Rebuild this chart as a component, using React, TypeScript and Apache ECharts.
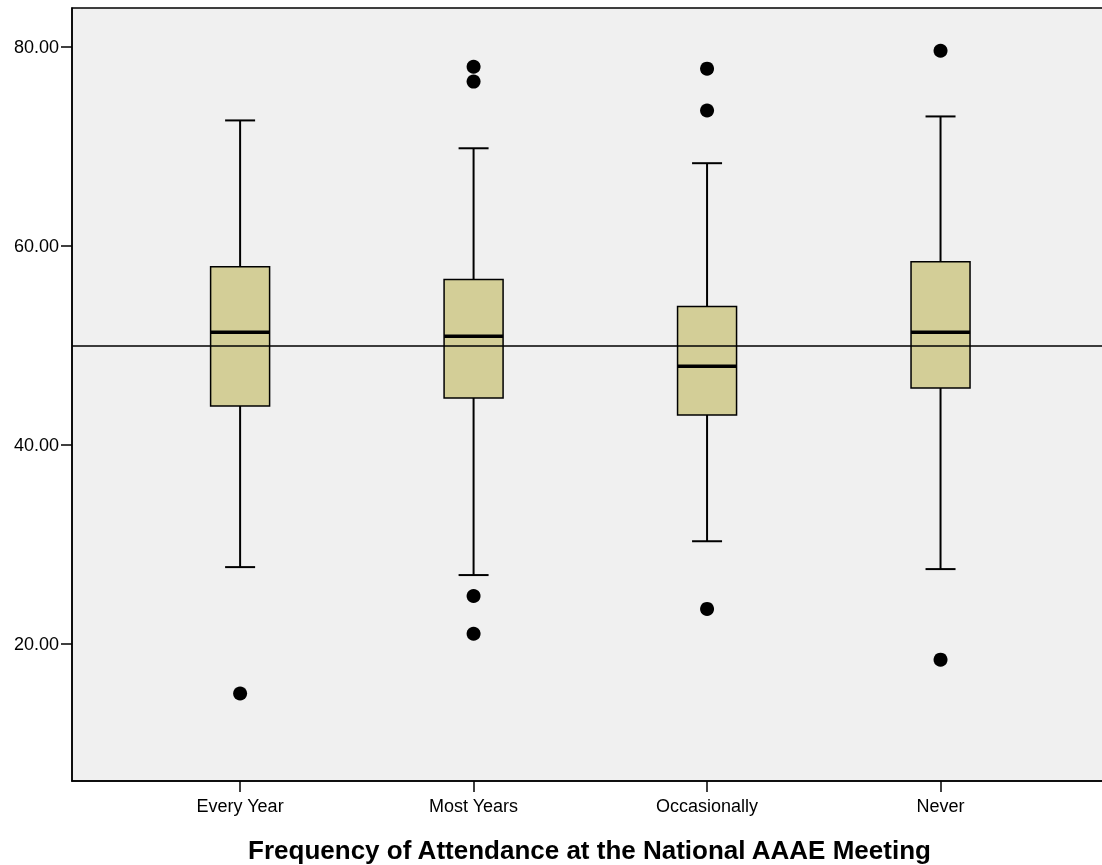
import React, { useEffect, useRef } from "react";
import * as echarts from "echarts";

const categories = ["Every Year", "Most Years", "Occasionally", "Never"];
const whiskerLow = [27.7, 26.9, 30.3, 27.5];
const q1 = [43.9, 44.7, 43.0, 45.7];
const median = [51.3, 50.9, 47.9, 51.3];
const q3 = [57.9, 56.6, 53.9, 58.4];
const whiskerHigh = [72.6, 69.8, 68.3, 73.0];
const outliers: [number, number][] = [
  [0, 15.0],
  [1, 78.0],
  [1, 76.5],
  [1, 24.8],
  [1, 21.0],
  [2, 77.8],
  [2, 73.6],
  [2, 23.5],
  [3, 79.6],
  [3, 18.4],
];
const yTicks = [20, 40, 60, 80];
const referenceValue = 50;
const xTitle = "Frequency of Attendance at the National AAAE Meeting";

export default function App() {
  const ref = useRef<HTMLDivElement>(null);
  useEffect(() => {
    if (!ref.current) return;
    const chart = echarts.init(ref.current, null, { renderer: "svg" });
    const boxData = categories.map((_, i) => [i, whiskerLow[i], q1[i], median[i], q3[i], whiskerHigh[i]]);
    const BOX_W = 59;
    const CAP_W = 30;
    const renderItem = (params: any, api: any) => {
      const x = api.value(0);
      const pLow = api.coord([x, api.value(1)]);
      const pQ1 = api.coord([x, api.value(2)]);
      const pMed = api.coord([x, api.value(3)]);
      const pQ3 = api.coord([x, api.value(4)]);
      const pHigh = api.coord([x, api.value(5)]);
      const cx = pMed[0];
      const lineStyle = { stroke: "#000", lineWidth: 2 };
      return {
        type: "group",
        children: [
          { type: "line", shape: { x1: cx, y1: pHigh[1], x2: cx, y2: pQ3[1] }, style: lineStyle },
          { type: "line", shape: { x1: cx, y1: pQ1[1], x2: cx, y2: pLow[1] }, style: lineStyle },
          { type: "line", shape: { x1: cx - CAP_W / 2, y1: pHigh[1], x2: cx + CAP_W / 2, y2: pHigh[1] }, style: lineStyle },
          { type: "line", shape: { x1: cx - CAP_W / 2, y1: pLow[1], x2: cx + CAP_W / 2, y2: pLow[1] }, style: lineStyle },
          {
            type: "rect",
            shape: { x: cx - BOX_W / 2, y: pQ3[1], width: BOX_W, height: pQ1[1] - pQ3[1] },
            style: { fill: "#d3ce97", stroke: "#000", lineWidth: 1.5 },
          },
          { type: "line", shape: { x1: cx - BOX_W / 2, y1: pMed[1], x2: cx + BOX_W / 2, y2: pMed[1] }, style: { stroke: "#000", lineWidth: 3.5 } },
        ],
      };
    };
    chart.setOption({
      animation: false,
      grid: {
        left: 72,
        top: 8,
        right: -5,
        bottom: 84,
        outerBoundsMode: "none",
        containLabel: false,
        show: true,
        backgroundColor: "#f0f0f0",
        borderColor: "#000",
        borderWidth: 1.5,
      },
      xAxis: {
        type: "value",
        min: -0.72,
        max: 3.713,
        splitLine: { show: false },
        axisLine: { show: true, onZero: false, lineStyle: { color: "#000", width: 1.5 } },
        axisTick: { show: true, customValues: [0, 1, 2, 3], length: 11, lineStyle: { color: "#000", width: 1.5 } },
        axisLabel: {
          customValues: [0, 1, 2, 3],
          formatter: (v: number) => categories[Math.round(v)] ?? "",
          color: "#000",
          fontSize: 18,
          fontFamily: "Arial",
          margin: 16,
        },
        name: xTitle,
        nameLocation: "middle",
        nameGap: 56,
        nameTextStyle: { color: "#000", fontSize: 26, fontWeight: "bold", fontFamily: "Arial" },
      },
      yAxis: {
        type: "value",
        min: 6.2,
        max: 83.9,
        splitLine: { show: false },
        axisLine: { show: true, onZero: false, lineStyle: { color: "#000", width: 1.5 } },
        axisTick: { show: true, customValues: yTicks, length: 11, lineStyle: { color: "#000", width: 1.5 } },
        axisLabel: {
          customValues: yTicks,
          formatter: (v: number) => v.toFixed(2),
          color: "#000",
          fontSize: 18,
          fontFamily: "Arial",
          margin: 13,
        },
      },
      series: [
        {
          type: "custom",
          renderItem,
          data: boxData,
          encode: { x: 0, y: [1, 2, 3, 4, 5] },
          z: 2,
          markLine: {
            silent: true,
            symbol: "none",
            label: { show: false },
            lineStyle: { color: "#000", width: 1.5, type: "solid" },
            data: [{ yAxis: referenceValue }],
            z: 10,
          },
        },
        {
          type: "scatter",
          data: outliers,
          symbol: "circle",
          symbolSize: 14,
          itemStyle: { color: "#000", opacity: 1 },
          z: 5,
        },
      ],
    });
    return () => chart.dispose();
  }, []);
  return <div ref={ref} style={{ position: "fixed", left: 0, top: 0, width: 1102, height: 865 }} />;
}
